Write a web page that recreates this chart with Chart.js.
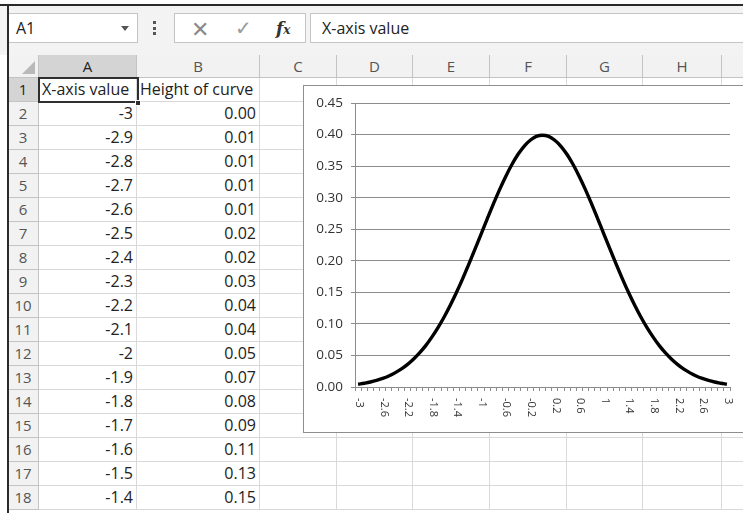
<!DOCTYPE html>
<html lang="en">
<head>
<meta charset="UTF-8">
<title>Height of curve</title>
<script src="https://cdn.jsdelivr.net/npm/chart.js"></script>
<style>
  body {
    margin: 0;
    width: 743px;
    height: 513px;
    overflow: hidden;
    position: relative;
    background: #fff;
    font-family: "Open Sans", sans-serif;
    color: #222;
  }
  .abs { position: absolute; box-sizing: border-box; }
  #topline { left: 0; top: 4px; width: 743px; height: 2px; background: #2a2a2a; }
  #leftline { left: 7px; top: 4px; width: 1.5px; height: 509px; background: #2a2a2a; z-index: 5; }
  #ribbon { left: 0; top: 6px; width: 743px; height: 49px; background: #f3f3f3; }
  .box { top: 13px; height: 30px; background: #fff; border: 1px solid #c4c4c4; }
  #namebox { left: 8px; width: 130px; font-size: 16px; padding-left: 7px; line-height: 28px; }
  #namebox .arrow {
    position: absolute; right: 8px; top: 12px; width: 0; height: 0;
    border-left: 4px solid transparent; border-right: 4px solid transparent; border-top: 5px solid #555;
  }
  #dots { left: 153px; top: 21px; width: 4px; height: 16px; }
  #dots i { display: block; width: 3px; height: 3px; background: #555; margin-bottom: 2.5px; }
  #btns { left: 174px; width: 132px; }
  #btns span { position: absolute; top: 0; line-height: 28px; }
  #formula { left: 310px; width: 450px; font-size: 16px; padding-left: 11px; line-height: 28px; }
  .cell {
    border-right: 1px solid #d9d9d9;
    border-bottom: 1px solid #d9d9d9;
    font-size: 16px;
    line-height: 23px;
    white-space: nowrap;
    overflow: visible;
  }
  .num { text-align: right; padding-right: 3px; }
  .hdr {
    background: #f2f2f2;
    border-right: 1px solid #c3c3c3;
    border-bottom: 1px solid #c3c3c3;
    color: #555;
    font-size: 15px;
    text-align: center;
  }
  .hdr.sel { background: #d4d4d4; color: #222; }
  #corner { left: 8px; top: 55px; width: 31px; height: 23px; }
  #corner::after {
    content: ""; position: absolute; right: 3px; bottom: 3px; width: 0; height: 0;
    border-left: 13px solid transparent; border-bottom: 13px solid #b9b9b9;
  }
  #selbox { left: 38px; top: 77px; width: 101px; height: 26px; border: 2px solid #2f2f2f; z-index: 3; }
  #handle { left: 135px; top: 100px; width: 6px; height: 6px; background: #2f2f2f; border: 1px solid #fff; z-index: 4; }
  #chartBox {
    left: 303px; top: 85px; width: 470px; height: 348px;
    background: #fff; border: 1px solid #8e8e8e; z-index: 2;
  }
  #chartBox canvas { display: block; }
</style>
</head>
<body>
<div class="abs" id="ribbon"></div>
<div class="abs" id="topline"></div>
<div class="abs" id="leftline"></div>
<div class="abs box" id="namebox">A1<span class="arrow"></span></div>
<div class="abs" id="dots"><i></i><i></i><i></i></div>
<div class="abs box" id="btns">
  <span style="left:16px;font-size:22px;color:#8a8a8a;">&#x2715;</span>
  <span style="left:60px;font-size:20px;color:#9a9a9a;">&#x2713;</span>
  <span style="left:101px;font-size:17px;font-style:italic;font-weight:bold;font-family:'DejaVu Serif',serif;color:#333;">f<span style="position:static;font-size:12px;">x</span></span>
</div>
<div class="abs box" id="formula">X-axis value</div>
<div class="abs hdr" id="corner"></div>
<div id="sheet"></div>
<div class="abs" id="selbox"></div>
<div class="abs" id="handle"></div>
<div class="abs" id="chartBox"><canvas id="curveChart"></canvas></div>

<script>
  // x-axis categories and the height of the curve at each one
  const xValues = [-3, -2.9, -2.8, -2.7, -2.6, -2.5, -2.4, -2.3, -2.2, -2.1,
    -2, -1.9, -1.8, -1.7, -1.6, -1.5, -1.4, -1.3, -1.2, -1.1,
    -1, -0.9, -0.8, -0.7, -0.6, -0.5, -0.4, -0.3, -0.2, -0.1,
    0, 0.1, 0.2, 0.3, 0.4, 0.5, 0.6, 0.7, 0.8, 0.9,
    1, 1.1, 1.2, 1.3, 1.4, 1.5, 1.6, 1.7, 1.8, 1.9,
    2, 2.1, 2.2, 2.3, 2.4, 2.5, 2.6, 2.7, 2.8, 2.9, 3];
  const curveHeights = [0.0044, 0.0060, 0.0079, 0.0104, 0.0136, 0.0175, 0.0224, 0.0283, 0.0355, 0.0440,
    0.0540, 0.0656, 0.0790, 0.0941, 0.1109, 0.1295, 0.1497, 0.1714, 0.1942, 0.2179,
    0.2420, 0.2661, 0.2897, 0.3123, 0.3332, 0.3521, 0.3683, 0.3814, 0.3910, 0.3970,
    0.3989, 0.3970, 0.3910, 0.3814, 0.3683, 0.3521, 0.3332, 0.3123, 0.2897, 0.2661,
    0.2420, 0.2179, 0.1942, 0.1714, 0.1497, 0.1295, 0.1109, 0.0941, 0.0790, 0.0656,
    0.0540, 0.0440, 0.0355, 0.0283, 0.0224, 0.0175, 0.0136, 0.0104, 0.0079, 0.0060, 0.0044];
  const xLabelStep = 4;        // every 4th category gets a label
  const yMin = 0, yMax = 0.45, yStep = 0.05;

  // spreadsheet grid
  const colNames = ['A', 'B', 'C', 'D', 'E', 'F', 'G', 'H', 'I'];
  const colEdges = [39, 137, 260, 337, 413, 490, 567, 643, 722, 800];
  const rowTop = 78, rowH = 24, rowCount = 18;

  const sheet = document.getElementById('sheet');
  function addDiv(cls, left, top, w, h, text) {
    const d = document.createElement('div');
    d.className = 'abs ' + cls;
    d.style.left = left + 'px';
    d.style.top = top + 'px';
    d.style.width = w + 'px';
    d.style.height = h + 'px';
    if (text !== undefined) d.textContent = text;
    sheet.appendChild(d);
    return d;
  }

  colNames.forEach((name, i) => {
    const d = addDiv('hdr' + (i === 0 ? ' sel' : ''), colEdges[i], 55, colEdges[i + 1] - colEdges[i], 23, name);
    d.style.lineHeight = '22px';
  });

  for (let r = 1; r <= rowCount; r++) {
    const top = rowTop + (r - 1) * rowH;
    const h = addDiv('hdr' + (r === 1 ? ' sel' : ''), 8, top, 31, rowH, String(r));
    h.style.lineHeight = '23px';
    for (let c = 0; c < colNames.length; c++) {
      const cell = addDiv('cell', colEdges[c], top, colEdges[c + 1] - colEdges[c], rowH);
      if (r === 1 && c === 0) { cell.textContent = 'X-axis value'; cell.style.paddingLeft = '3px'; }
      if (r === 1 && c === 1) { cell.textContent = 'Height of curve'; cell.style.paddingLeft = '3px'; }
      if (r > 1 && c === 0) { cell.textContent = String(xValues[r - 2]); cell.classList.add('num'); }
      if (r > 1 && c === 1) { cell.textContent = curveHeights[r - 2].toFixed(2); cell.classList.add('num'); }
    }
  }

  // x labels read top-to-bottom under the axis, so they are drawn here
  const verticalLabels = {
    id: 'verticalLabels',
    afterDraw(chart) {
      const xs = chart.scales.x;
      const ctx = chart.ctx;
      ctx.save();
      ctx.font = '11px "Open Sans"';
      ctx.fillStyle = '#333';
      ctx.textAlign = 'left';
      ctx.textBaseline = 'middle';
      for (let i = 0; i < xValues.length; i += xLabelStep) {
        ctx.save();
        ctx.translate(xs.getPixelForTick(i) + 1, xs.top + 11);
        ctx.rotate(Math.PI / 2);
        ctx.fillText(String(xValues[i]), 0, 0);
        ctx.restore();
      }
      ctx.restore();
    }
  };

  const gridGrey = '#8c8c8c';
  new Chart(document.getElementById('curveChart'), {
    type: 'line',
    data: {
      labels: xValues.map(String),
      datasets: [{
        data: curveHeights,
        borderColor: '#000',
        borderWidth: 3.4,
        pointRadius: 0,
        tension: 0.4,
        fill: false
      }]
    },
    options: {
      responsive: true,
      maintainAspectRatio: false,
      animation: false,
      layout: { padding: { top: 17, right: 42, left: 0, bottom: 0 } },
      plugins: { legend: { display: false }, tooltip: { enabled: false } },
      scales: {
        x: {
          type: 'category',
          offset: true,
          afterFit: s => { s.height = 45; },
          grid: { drawOnChartArea: false, offset: true, tickLength: 4, color: gridGrey },
          border: { color: gridGrey },
          ticks: { autoSkip: false, maxRotation: 0, callback: () => '', color: 'transparent' }
        },
        y: {
          min: yMin,
          max: yMax,
          afterFit: s => { s.width = 51; },
          grid: { color: gridGrey, tickLength: 4 },
          border: { color: gridGrey },
          ticks: {
            stepSize: yStep,
            padding: 8,
            color: '#333',
            font: { family: 'Open Sans', size: 13.5 },
            callback: v => v.toFixed(2)
          }
        }
      }
    },
    plugins: [verticalLabels]
  });
</script>
</body>
</html>
